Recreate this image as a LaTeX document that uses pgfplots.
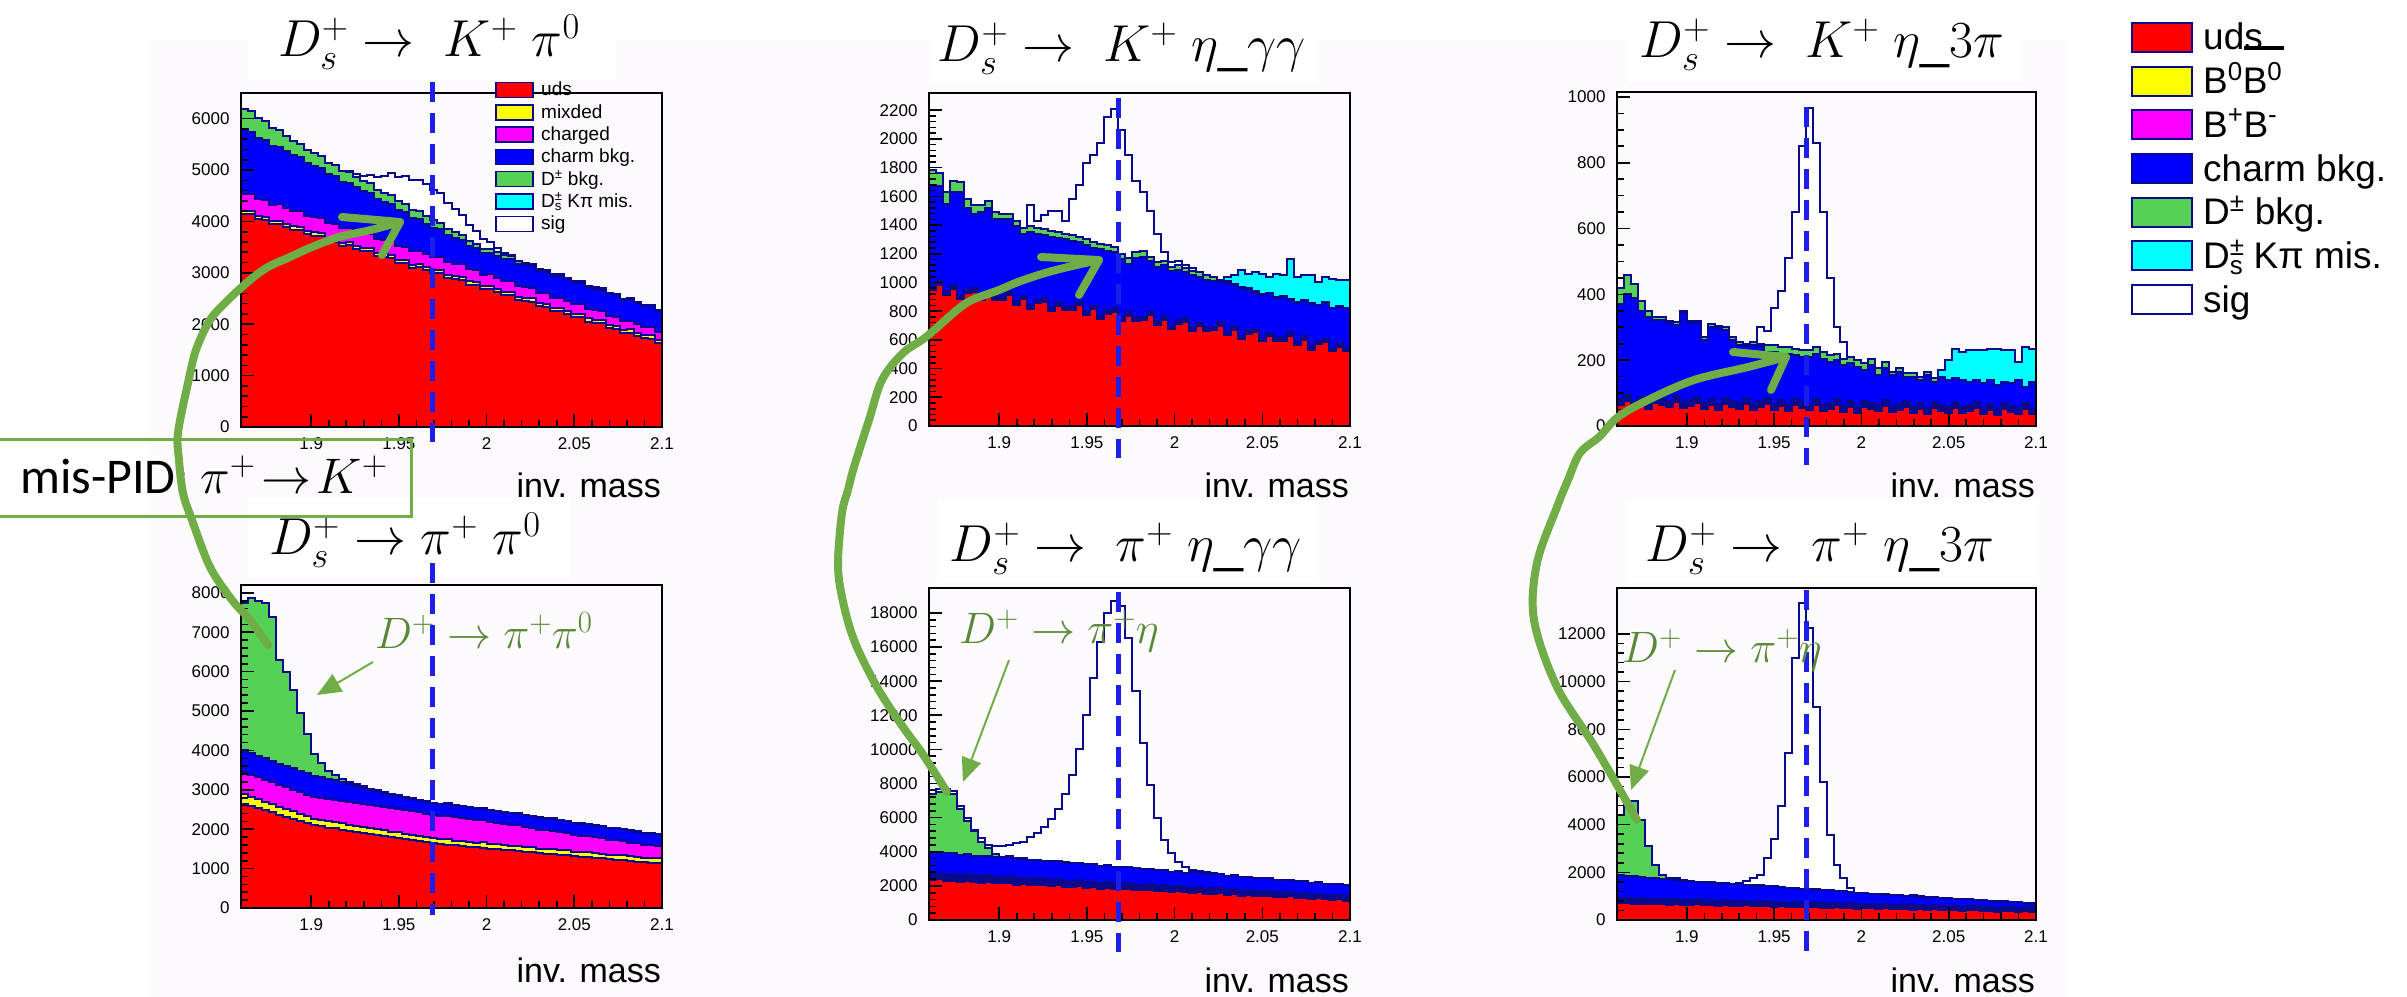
\RequirePackage{fix-cm}
\documentclass[border=0pt]{standalone}
\usepackage{fontspec}
\setmainfont{Liberation Sans}
\newfontfamily\carlito{Carlito}
\usepackage{pgfplots}
\usepackage{pgfplotstable}
\pgfplotsset{compat=1.18}
\usetikzlibrary{arrows.meta}
\definecolor{hred}{RGB}{255,0,0}
\definecolor{hyel}{RGB}{255,255,0}
\definecolor{hmag}{RGB}{255,0,255}
\definecolor{hblu}{RGB}{0,0,255}
\definecolor{hgrn}{RGB}{85,210,85}
\definecolor{hcya}{RGB}{0,255,255}
\definecolor{hnav}{RGB}{10,10,140}
\definecolor{annog}{RGB}{112,173,71}
\definecolor{annot}{RGB}{88,136,56}
\definecolor{dashb}{RGB}{30,30,235}
\definecolor{bgp}{RGB}{253,250,253}

\pgfplotstableread{
x uds mix chg chm dpm sig
1.860 4150 4210 4540 5790 6190 6190
1.864 4138 4198 4525 5750 6140 6140
1.868 4045 4105 4429 5629 6009 6009
1.872 4033 4093 4414 5589 5949 5949
1.876 3950 4010 4328 5478 5818 5818
1.880 3958 4018 4333 5458 5778 5778
1.884 3896 3956 4268 5368 5668 5668
1.888 3843 3903 4212 5287 5567 5567
1.892 3841 3901 4207 5257 5517 5517
1.896 3748 3808 4111 5136 5386 5386
1.900 3726 3786 4086 5086 5326 5326
1.904 3714 3774 4071 5046 5276 5276
1.908 3621 3681 3975 4925 5145 5145
1.912 3609 3669 3960 4885 5100 5100
1.916 3526 3586 3874 4774 4984 4984
1.920 3534 3594 3879 4754 4959 4989
1.924 3472 3532 3814 4664 4864 4924
1.928 3419 3479 3758 4583 4778 4878
1.932 3417 3477 3753 4553 4743 4913
1.936 3324 3384 3657 4432 4617 4867
1.940 3302 3362 3632 4382 4562 4892
1.944 3290 3350 3617 4342 4517 4937
1.948 3197 3257 3521 4221 4391 4871
1.952 3185 3245 3506 4181 4346 4886
1.956 3102 3162 3420 4070 4230 4810
1.960 3110 3170 3425 4050 4205 4805
1.964 3048 3108 3360 3960 4110 4720
1.968 2995 3055 3304 3879 4019 4619
1.972 2993 3053 3299 3849 3979 4549
1.976 2900 2960 3203 3728 3848 4368
1.980 2878 2938 3178 3678 3788 4248
1.984 2866 2926 3163 3638 3738 4128
1.988 2773 2833 3067 3517 3612 3932
1.992 2761 2821 3052 3477 3567 3817
1.996 2678 2738 2966 3386 3471 3651
2.000 2686 2746 2971 3391 3471 3591
2.004 2624 2684 2906 3326 3401 3481
2.008 2571 2631 2850 3270 3340 3380
2.012 2569 2629 2845 3265 3330 3350
2.016 2476 2536 2749 3169 3229 3229
2.020 2454 2514 2724 3144 3199 3199
2.024 2442 2502 2709 3129 3179 3179
2.028 2349 2409 2613 3033 3078 3078
2.032 2337 2397 2598 3018 3058 3058
2.036 2254 2314 2512 2932 2970 2970
2.040 2262 2322 2517 2937 2973 2973
2.044 2200 2260 2452 2872 2906 2906
2.048 2147 2207 2396 2816 2848 2848
2.052 2145 2205 2391 2811 2841 2841
2.056 2052 2112 2295 2715 2743 2743
2.060 2030 2090 2270 2690 2716 2716
2.064 2018 2078 2255 2675 2699 2699
2.068 1925 1985 2159 2579 2601 2601
2.072 1913 1973 2144 2564 2584 2584
2.076 1830 1890 2058 2478 2498 2498
2.080 1838 1898 2063 2483 2503 2503
2.084 1776 1836 1998 2418 2438 2438
2.088 1723 1783 1942 2362 2382 2382
2.092 1721 1781 1937 2357 2377 2377
2.096 1628 1688 1841 2261 2281 2281
2.100 1628 1688 1841 2261 2281 2281
}\tA

\pgfplotstableread{
x uds mix chg chm dpm
1.860 2650 2900 3460 4000 7750
1.864 2590 2830 3389 3929 7860
1.868 2540 2770 3328 3868 7800
1.872 2480 2700 3257 3797 7750
1.876 2430 2640 3196 3736 7400
1.880 2370 2570 3125 3665 6300
1.884 2320 2515 3069 3609 6000
1.888 2260 2450 3003 3543 5530
1.892 2210 2390 2942 3482 4940
1.896 2150 2325 2876 3416 4430
1.900 2100 2270 2820 3360 3920
1.904 2070 2235 2790 3320 3670
1.908 2040 2202 2762 3282 3482
1.912 2020 2180 2745 3245 3365
1.916 1990 2147 2717 3197 3277
1.920 1960 2115 2690 3140 3190
1.924 1940 2092 2672 3102 3142
1.928 1910 2060 2645 3055 3085
1.932 1880 2027 2617 3007 3027
1.936 1860 2005 2600 2970 2990
1.940 1830 1972 2572 2922 2942
1.944 1800 1940 2540 2880 2900
1.948 1780 1917 2517 2847 2867
1.952 1750 1885 2485 2805 2825
1.956 1720 1852 2452 2762 2782
1.960 1700 1830 2430 2730 2750
1.964 1670 1797 2397 2697 2707
1.968 1640 1765 2365 2665 2675
1.972 1620 1740 2340 2640 2650
1.976 1610 1745 2345 2645 2655
1.980 1590 1700 2300 2600 2610
1.984 1580 1700 2290 2590 2600
1.988 1560 1675 2255 2555 2565
1.992 1540 1660 2230 2530 2540
1.996 1530 1665 2225 2525 2535
2.000 1510 1630 2180 2480 2490
2.004 1500 1620 2160 2460 2470
2.008 1480 1590 2120 2420 2430
2.012 1460 1580 2100 2400 2410
2.016 1450 1585 2095 2395 2405
2.020 1430 1550 2050 2350 2360
2.024 1420 1540 2030 2330 2340
2.028 1400 1510 1990 2290 2300
2.032 1380 1500 1970 2270 2280
2.036 1370 1505 1965 2265 2275
2.040 1350 1470 1920 2220 2230
2.044 1340 1460 1900 2200 2210
2.048 1320 1430 1860 2160 2170
2.052 1300 1420 1840 2140 2150
2.056 1290 1425 1835 2135 2145
2.060 1270 1390 1790 2090 2100
2.064 1260 1380 1770 2070 2080
2.068 1240 1350 1730 2030 2040
2.072 1230 1350 1720 2020 2030
2.076 1210 1345 1705 2005 2015
2.080 1190 1310 1660 1960 1970
2.084 1180 1300 1640 1940 1950
2.088 1160 1270 1600 1900 1910
2.092 1150 1270 1590 1890 1900
2.096 1130 1265 1575 1875 1885
2.100 1130 1265 1575 1875 1885
}\tB

\pgfplotstableread{
x uds chg chm dpm kpi sig
1.860 950 975 1680 1780 1780 1780
1.864 983 1008 1670 1760 1760 1760
1.868 916 941 1550 1630 1630 1630
1.872 954 979 1630 1710 1710 1710
1.876 887 912 1630 1700 1700 1700
1.880 925 950 1520 1580 1580 1580
1.884 937 962 1480 1540 1540 1540
1.888 875 900 1490 1540 1540 1540
1.892 908 933 1520 1570 1570 1570
1.896 876 901 1440 1490 1490 1490
1.900 879 904 1440 1480 1480 1480
1.904 912 937 1440 1480 1480 1480
1.908 845 870 1390 1430 1430 1430
1.912 883 908 1340 1380 1380 1380
1.916 816 841 1350 1390 1390 1540
1.920 854 879 1340 1380 1380 1430
1.924 866 891 1330 1370 1370 1470
1.928 804 829 1320 1360 1360 1500
1.932 837 862 1310 1350 1350 1500
1.936 805 830 1300 1340 1340 1430
1.940 808 833 1290 1330 1330 1580
1.944 841 866 1280 1320 1320 1680
1.948 774 799 1260 1300 1300 1830
1.952 812 837 1240 1280 1280 1890
1.956 745 770 1230 1270 1270 1970
1.960 783 808 1220 1260 1260 2150
1.964 795 820 1210 1250 1250 2210
1.968 733 758 1160 1200 1200 2060
1.972 766 791 1130 1170 1170 1890
1.976 734 759 1170 1210 1210 1710
1.980 737 762 1180 1220 1220 1630
1.984 770 795 1150 1180 1180 1500
1.988 703 728 1110 1140 1140 1340
1.992 741 766 1120 1150 1150 1210
1.996 674 699 1080 1110 1110 1140
2.000 712 737 1090 1120 1120 1150
2.004 724 749 1070 1100 1100 1120
2.008 662 687 1050 1080 1080 1100
2.012 695 720 1040 1070 1070 1070
2.016 663 688 1020 1050 1050 1050
2.020 666 691 1010 1040 1040 1040
2.024 699 724 1000 1020 1020 1020
2.028 632 657 995 1010 1040 1040
2.032 670 695 980 990 1050 1050
2.036 603 628 960 970 1090 1090
2.040 641 666 950 960 1060 1060
2.044 653 678 930 940 1070 1070
2.048 591 616 910 920 1060 1060
2.052 624 649 925 930 1040 1040
2.056 592 617 895 900 1060 1060
2.060 595 620 900 905 1055 1055
2.064 628 653 880 885 1165 1165
2.068 561 586 860 865 1035 1035
2.072 599 624 870 875 1055 1055
2.076 532 557 850 855 1055 1055
2.080 570 595 840 845 1005 1005
2.084 582 607 860 865 1035 1035
2.088 520 545 820 825 1025 1025
2.092 553 578 830 835 1015 1015
2.096 521 546 820 825 1015 1015
2.100 521 546 820 825 1015 1015
}\tC

\pgfplotstableread{
x uds chg chm dpm sig
1.860 2350 2750 4000 7400 7600
1.864 2380 2777 4007 7500 7650
1.868 2280 2675 3914 7600 7700
1.872 2310 2702 3931 7400 7550
1.876 2230 2620 3828 6500 6700
1.880 2280 2667 3855 5800 6000
1.884 2230 2615 3772 5200 5300
1.888 2190 2572 3779 4600 4800
1.892 2230 2610 3776 4200 4400
1.896 2140 2517 3683 3850 4350
1.900 2150 2525 3670 3700 4350
1.904 2180 2552 3677 3777 4400
1.908 2080 2450 3584 3644 4500
1.912 2110 2477 3601 3641 4600
1.916 2030 2395 3498 3518 4850
1.920 2080 2442 3525 3545 5100
1.924 2030 2390 3442 3462 5450
1.928 1990 2347 3449 3469 5900
1.932 2030 2385 3446 3466 6500
1.936 1940 2292 3353 3373 7400
1.940 1950 2300 3340 3360 8500
1.944 1980 2327 3347 3347 10000
1.948 1880 2225 3254 3254 12000
1.952 1910 2252 3271 3271 14200
1.956 1830 2170 3168 3168 16300
1.960 1880 2217 3195 3195 18000
1.964 1830 2165 3112 3112 18700
1.968 1790 2122 3119 3119 18400
1.972 1830 2160 3116 3116 16500
1.976 1740 2067 3023 3023 13400
1.980 1750 2075 3010 3010 10400
1.984 1780 2102 3017 3017 7900
1.988 1680 2000 2924 2924 6000
1.992 1710 2027 2941 2941 4700
1.996 1630 1945 2838 2838 3900
2.000 1680 1992 2865 2865 3400
2.004 1630 1940 2782 2782 3100
2.008 1590 1897 2789 2789 2950
2.012 1630 1935 2786 2786 2850
2.016 1540 1842 2693 2693 2800
2.020 1550 1850 2680 2680 2750
2.024 1580 1877 2687 2687 2687
2.028 1480 1775 2594 2594 2594
2.032 1510 1802 2611 2611 2611
2.036 1430 1720 2508 2508 2508
2.040 1480 1767 2535 2535 2535
2.044 1430 1715 2452 2452 2452
2.048 1390 1672 2459 2459 2459
2.052 1430 1710 2456 2456 2456
2.056 1340 1617 2363 2363 2363
2.060 1350 1625 2350 2350 2350
2.064 1380 1652 2357 2357 2357
2.068 1280 1550 2264 2264 2264
2.072 1310 1577 2281 2281 2281
2.076 1230 1495 2178 2178 2178
2.080 1280 1542 2205 2205 2205
2.084 1230 1490 2122 2122 2122
2.088 1190 1447 2129 2129 2129
2.092 1230 1485 2126 2126 2126
2.096 1140 1392 2033 2033 2033
2.100 1140 1392 2033 2033 2033
}\tD

\pgfplotstableread{
x uds chg chm dpm kpi sig
1.860 65 83 370 420 420 420
1.864 75 93 400 460 460 460
1.868 56 74 390 430 430 430
1.872 69 87 350 380 380 380
1.876 53 71 330 350 350 350
1.880 71 89 322 330 330 330
1.884 63 81 322 330 330 330
1.888 57 75 312 320 320 320
1.892 72 90 307 315 315 315
1.896 54 72 342 350 350 350
1.900 61 79 312 320 320 320
1.904 71 89 312 320 320 320
1.908 52 70 262 270 270 270
1.912 65 83 302 310 310 310
1.916 49 67 297 305 305 305
1.920 67 85 292 300 300 300
1.924 59 77 262 270 270 270
1.928 53 71 247 255 255 255
1.932 68 86 242 250 250 250
1.936 50 68 247 255 255 255
1.940 57 75 242 250 250 300
1.944 67 85 225 245 245 290
1.948 48 66 225 245 245 360
1.952 61 79 220 240 240 410
1.956 45 63 220 240 240 510
1.960 63 81 215 235 235 650
1.964 55 73 210 230 230 850
1.968 49 67 210 230 230 965
1.972 64 82 220 240 240 860
1.976 47 65 205 225 225 650
1.980 53 71 195 215 215 450
1.984 63 81 200 220 220 300
1.988 44 62 185 205 205 255
1.992 57 75 190 210 210 210
1.996 41 59 180 200 200 200
2.000 59 77 170 190 190 190
2.004 51 69 185 205 205 205
2.008 45 63 155 175 175 175
2.012 60 78 175 195 195 195
2.016 43 61 155 165 165 165
2.020 49 67 165 175 175 175
2.024 59 77 150 160 160 160
2.028 40 58 150 160 160 160
2.032 53 71 140 150 150 150
2.036 37 55 155 165 165 165
2.040 55 73 135 145 145 145
2.044 47 65 150 150 170 170
2.048 41 59 140 140 200 200
2.052 56 74 145 145 235 235
2.056 39 57 140 140 225 225
2.060 45 63 135 135 230 230
2.064 55 73 140 140 230 230
2.068 36 54 130 130 230 230
2.072 49 67 140 140 235 235
2.076 33 51 125 125 235 235
2.080 51 69 135 135 230 230
2.084 43 61 130 130 230 230
2.088 37 55 140 140 195 195
2.092 52 70 120 120 240 240
2.096 35 53 135 135 235 235
2.100 35 53 135 135 235 235
}\tE

\pgfplotstableread{
x uds chg chm dpm sig
1.860 700 920 1900 4400 4400
1.864 719 938 1852 5000 5000
1.868 673 891 1854 5000 5000
1.872 692 909 1806 4200 4200
1.876 651 867 1758 3100 3100
1.880 685 900 1760 2300 2300
1.884 664 878 1707 1900 1900
1.888 648 861 1709 1780 1780
1.892 672 884 1666 1746 1746
1.896 631 842 1628 1678 1678
1.900 640 850 1620 1650 1650
1.904 659 868 1582 1602 1602
1.908 613 821 1595 1615 1615
1.912 632 839 1557 1577 1577
1.916 591 797 1520 1540 1540
1.920 625 830 1532 1547 1547
1.924 604 808 1490 1500 1500
1.928 588 791 1502 1512 1560
1.932 612 814 1470 1480 1620
1.936 571 772 1442 1452 1750
1.940 580 780 1445 1455 1900
1.944 599 798 1407 1417 2600
1.948 553 751 1420 1430 3400
1.952 572 769 1378 1388 4800
1.956 531 727 1337 1347 7000
1.960 565 760 1345 1355 11000
1.964 544 738 1299 1309 13290
1.968 528 721 1307 1317 12240
1.972 552 744 1271 1281 8950
1.976 511 702 1239 1249 5800
1.980 520 710 1238 1248 3570
1.984 539 728 1196 1206 2310
1.988 493 681 1205 1215 1750
1.992 512 699 1163 1173 1330
1.996 471 657 1122 1132 1150
2.000 505 690 1130 1140 1140
2.004 484 668 1087 1097 1097
2.008 468 651 1100 1110 1110
2.012 492 674 1068 1078 1078
2.016 451 632 1040 1050 1050
2.020 460 640 1042 1052 1052
2.024 479 658 1005 1015 1015
2.028 433 611 1018 1028 1028
2.032 452 629 980 990 990
2.036 411 587 942 952 952
2.040 445 620 955 965 965
2.044 424 598 913 923 923
2.048 408 581 925 935 935
2.052 432 604 892 902 902
2.056 391 562 865 875 875
2.060 400 570 868 878 878
2.064 419 588 830 840 840
2.068 373 541 842 852 852
2.072 392 559 805 815 815
2.076 351 517 768 778 778
2.080 385 550 780 790 790
2.084 364 528 737 747 747
2.088 348 511 750 760 760
2.092 372 534 718 728 728
2.096 331 492 690 700 700
2.100 331 492 690 700 700
}\tF

\pgfplotsset{
  hist/.style={const plot, draw=hnav, line width=2bp, fill=#1, mark=none},
  rootax/.style={scale only axis, anchor=south west,
    xmin=1.86, xmax=2.1, ymin=0, axis on top,
    tick pos=left, tick align=inside,
    xtick={1.9,1.95,2,2.05,2.1}, xticklabels={1.9,1.95,2,2.05,2.1},
    minor x tick num=4,
    major tick length=13bp, minor tick length=7bp,
    tick style={black, line width=1.6bp},
    axis line style={black, line width=2.2bp},
    tick label style={font=\fontsize{17bp}{20bp}\selectfont},
    xticklabel style={yshift=-7bp}, yticklabel style={xshift=-8bp},
    scaled ticks=false,
    /pgf/number format/1000 sep={},
    /pgf/number format/assume math mode=true},
}

\begin{document}
\begin{tikzpicture}
\useasboundingbox (0,0) rectangle (2407bp,997bp);
\fill[white] (0,0) rectangle (2407bp,997bp);
\fill[bgp] (147bp,0) rectangle (2065bp,957bp);
% title boxes
\fill[white] (248bp,917bp) rectangle (616bp,957bp);
\fill[white] (248bp,419bp) rectangle (569bp,500bp);
\fill[white] (930bp,914bp) rectangle (1319bp,957bp);
\fill[white] (938bp,414bp) rectangle (1319bp,497bp);
\fill[white] (1629bp,915bp) rectangle (2023bp,957bp);
\fill[white] (1629bp,414bp) rectangle (2039bp,497bp);

% Panel 1
\begin{axis}[rootax, at={(241bp,570bp)}, width=421bp, height=334bp, ymax=6500,
  ytick={0,1000,...,6000}, minor y tick num=4]
\addplot[hist=white] table[x=x,y=sig]{\tA} \closedcycle;
\addplot[hist=hgrn] table[x=x,y=dpm]{\tA} \closedcycle;
\addplot[hist=hblu] table[x=x,y=chm]{\tA} \closedcycle;
\addplot[hist=hmag] table[x=x,y=chg]{\tA} \closedcycle;
\addplot[hist=hyel] table[x=x,y=mix]{\tA} \closedcycle;
\addplot[hist=hred] table[x=x,y=uds]{\tA} \closedcycle;
\end{axis}

% Panel 2
\begin{axis}[rootax, at={(241bp,89bp)}, width=421bp, height=323bp, ymax=8200,
  ytick={0,1000,...,8000}, minor y tick num=4]
\addplot[hist=hgrn] table[x=x,y=dpm]{\tB} \closedcycle;
\addplot[hist=hblu] table[x=x,y=chm]{\tB} \closedcycle;
\addplot[hist=hmag] table[x=x,y=chg]{\tB} \closedcycle;
\addplot[hist=hyel] table[x=x,y=mix]{\tB} \closedcycle;
\addplot[hist=hred] table[x=x,y=uds]{\tB} \closedcycle;
\end{axis}

% Panel 3
\begin{axis}[rootax, at={(929bp,571bp)}, width=421bp, height=333bp, ymax=2320,
  ytick={0,200,...,2200}, minor y tick num=4]
\addplot[hist=white] table[x=x,y=sig]{\tC} \closedcycle;
\addplot[hist=hcya] table[x=x,y=kpi]{\tC} \closedcycle;
\addplot[hist=hgrn] table[x=x,y=dpm]{\tC} \closedcycle;
\addplot[hist=hblu] table[x=x,y=chm]{\tC} \closedcycle;
\addplot[hist=hnav] table[x=x,y=chg]{\tC} \closedcycle;
\addplot[hist=hred] table[x=x,y=uds]{\tC} \closedcycle;
\end{axis}

% Panel 4
\begin{axis}[rootax, at={(929bp,77bp)}, width=421bp, height=332bp, ymax=19460,
  ytick={0,2000,...,18000}, minor y tick num=4]
\addplot[hist=white] table[x=x,y=sig]{\tD} \closedcycle;
\addplot[hist=hgrn] table[x=x,y=dpm]{\tD} \closedcycle;
\addplot[hist=hblu] table[x=x,y=chm]{\tD} \closedcycle;
\addplot[hist=hnav] table[x=x,y=chg]{\tD} \closedcycle;
\addplot[hist=hred] table[x=x,y=uds]{\tD} \closedcycle;
\end{axis}

% Panel 5
\begin{axis}[rootax, at={(1617bp,571bp)}, width=419bp, height=334bp, ymax=1015,
  ytick={0,200,...,1000}, minor y tick num=3]
\addplot[hist=white] table[x=x,y=sig]{\tE} \closedcycle;
\addplot[hist=hcya] table[x=x,y=kpi]{\tE} \closedcycle;
\addplot[hist=hgrn] table[x=x,y=dpm]{\tE} \closedcycle;
\addplot[hist=hblu] table[x=x,y=chm]{\tE} \closedcycle;
\addplot[hist=hnav] table[x=x,y=chg]{\tE} \closedcycle;
\addplot[hist=hred] table[x=x,y=uds]{\tE} \closedcycle;
\end{axis}

% Panel 6
\begin{axis}[rootax, at={(1617bp,77bp)}, width=419bp, height=332bp, ymax=13930,
  ytick={0,2000,...,12000}, minor y tick num=4]
\addplot[hist=white] table[x=x,y=sig]{\tF} \closedcycle;
\addplot[hist=hgrn] table[x=x,y=dpm]{\tF} \closedcycle;
\addplot[hist=hblu] table[x=x,y=chm]{\tF} \closedcycle;
\addplot[hist=hnav] table[x=x,y=chg]{\tF} \closedcycle;
\addplot[hist=hred] table[x=x,y=uds]{\tF} \closedcycle;
\end{axis}

\begin{scope}[x=1bp,y=1bp]
% titles
\begin{scope}[every node/.style={anchor=base, inner sep=0, font=\fontsize{52bp}{58bp}\selectfont}]
\node at (429,940) {$D_s^+ \to\ K^+\ \pi^0$};
\node at (405,442) {$D_s^+ \to \pi^+\ \pi^0$};
\node at (1122,935) {$D_s^+ \to\ K^+\ \eta\_\gamma\gamma$};
\node at (1126,435) {$D_s^+ \to\ \pi^+\ \eta\_\gamma\gamma$};
\node at (1822,939) {$D_s^+ \to\ K^+\ \eta\_3\pi$};
\node at (1820,435) {$D_s^+ \to\ \pi^+\ \eta\_3\pi$};
\end{scope}
% inv. mass
\begin{scope}[every node/.style={anchor=base east, inner sep=0, font=\fontsize{34bp}{40bp}\selectfont}]
\node at (661,499) {inv. mass};
\node at (1349,499) {inv. mass};
\node at (2035,499) {inv. mass};
\node at (661,15) {inv. mass};
\node at (1349,5) {inv. mass};
\node at (2035,5) {inv. mass};
\end{scope}
% dashed lines
\begin{scope}[dashb, line width=5bp, dash pattern=on 20bp off 11bp]
\draw (432,915) -- (432,555);
\draw (432,434) -- (432,82);
\draw (1118.5,899) -- (1118.5,539);
\draw (1118.5,405) -- (1118.5,45);
\draw (1806,890) -- (1806,532);
\draw (1806,407) -- (1806,45);
\end{scope}
% panel 1 legend
\begin{scope}[every node/.style={anchor=base west, inner sep=0, font=\fontsize{19bp}{22bp}\selectfont}]
\draw[hnav, line width=1.5bp, fill=hred] (496,899.5) rectangle (533,914.5);
\node at (541,901) {uds};
\draw[hnav, line width=1.5bp, fill=hyel] (496,877.2) rectangle (533,892.2);
\node at (541,878.7) {mixded};
\draw[hnav, line width=1.5bp, fill=hmag] (496,854.9) rectangle (533,869.9);
\node at (541,856.4) {charged};
\draw[hnav, line width=1.5bp, fill=hblu] (496,832.6) rectangle (533,847.6);
\node at (541,834.1) {charm bkg.};
\draw[hnav, line width=1.5bp, fill=hgrn] (496,810.3) rectangle (533,825.3);
\node at (541,811.8) {D\textsuperscript{±} bkg.};
\draw[hnav, line width=1.5bp, fill=hcya] (496,788) rectangle (533,803);
\node at (541,789.5) {D\rlap{\textsuperscript{±}}\textsubscript{s} Kπ mis.};
\draw[hnav, line width=1.5bp, fill=white] (496,765.7) rectangle (533,780.7);
\node at (541,767.2) {sig};
\end{scope}
% right legend
\begin{scope}[every node/.style={anchor=base west, inner sep=0, font=\fontsize{37bp}{42bp}\selectfont}]
\draw[hnav, line width=2bp, fill=hred] (2132,945) rectangle (2192,974);
\node at (2203,947) {ud\rlap{\rule[0bp]{40bp}{3.5bp}}s};
\draw[hnav, line width=2bp, fill=hyel] (2132,901.3) rectangle (2192,930.3);
\node at (2203,903.3) {B\textsuperscript{0}B\textsuperscript{0}};
\draw[hnav, line width=2bp, fill=hmag] (2132,857.6) rectangle (2192,886.6);
\node at (2203,859.6) {B\textsuperscript{+}B\textsuperscript{-}};
\draw[hnav, line width=2bp, fill=hblu] (2132,813.9) rectangle (2192,842.9);
\node at (2203,815.9) {charm bkg.};
\draw[hnav, line width=2bp, fill=hgrn] (2132,770.2) rectangle (2192,799.2);
\node at (2203,772.2) {D\textsuperscript{±} bkg.};
\draw[hnav, line width=2bp, fill=hcya] (2132,726.5) rectangle (2192,755.5);
\node at (2203,728.5) {D\rlap{\textsuperscript{±}}\textsubscript{s} Kπ mis.};
\draw[hnav, line width=2bp, fill=white] (2132,682.8) rectangle (2192,711.8);
\node at (2203,684.8) {sig};
\end{scope}
% mis-PID box
\draw[annog, line width=3bp] (-5,480) rectangle (411,557);
\node[anchor=base west, inner sep=0, font=\carlito\fontsize{50bp}{56bp}\selectfont] at (20,503) {mis-PID: $\pi^+\!\to\! K^+$};
% green annotations
\begin{scope}[every node/.style={anchor=base west, inner sep=0, text=annot, font=\fontsize{44bp}{50bp}\selectfont}]
\node at (375,349) {$D^+ \to \pi^+\pi^0$};
\node at (959,354) {$D^+ \to \pi^+\eta$};
\node at (1622,335) {$D^+ \to \pi^+\eta$};
\end{scope}
\begin{scope}[annog, line width=2bp, -{Triangle[length=24bp,width=20bp]}]
\draw (373,335) -- (317,302);
\draw (1009,337) -- (963,215);
\draw (1675,327) -- (1631,207);
\end{scope}
% big curved arrows
\begin{scope}[annog, line width=8bp, line cap=round, line join=round]
\draw plot[smooth, tension=0.55] coordinates {(268,352) (250,377) (232,397) (210,430) (192,477) (183,504) (179,537) (178,564) (188,614) (196,647) (210,677) (228,697) (250,717) (268,730) (290,740) (312,750) (339,760) (371,767) (400,775)};
\draw (342,780) -- (400,775) -- (382,742);
\draw plot[smooth, tension=0.55] coordinates {(947,205) (922,244) (903,270) (877,310) (854,357) (842,400) (838,434) (842,484) (848,507) (854,530) (869,577) (882,617) (903,644) (926,660) (957,687) (972,697) (999,707) (1018,715) (1045,724) (1068,730) (1099,737)};
\draw (1041,740) -- (1099,737) -- (1079,702);
\draw plot[smooth, tension=0.55] coordinates {(1637,177) (1595,250) (1557,310) (1534,377) (1537,434) (1557,490) (1568,517) (1580,544) (1599,560) (1618,580) (1648,597) (1694,617) (1748,630) (1786,640)};
\draw (1733,645) -- (1786,640) -- (1771,607);
\end{scope}
\end{scope}
\end{tikzpicture}
\end{document}
